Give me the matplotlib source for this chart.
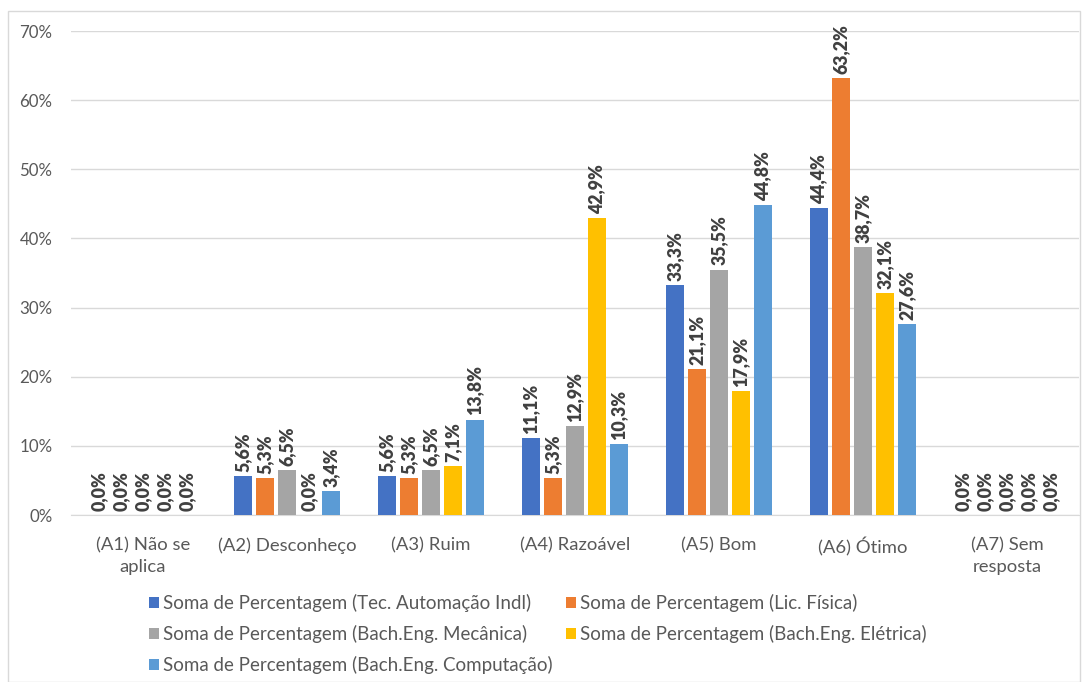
import matplotlib
matplotlib.use("Agg")
import matplotlib.pyplot as plt
from matplotlib.patches import Rectangle
import numpy as np

categories = ["(A1) Não se\naplica", "(A2) Desconheço", "(A3) Ruim", "(A4) Razoável",
              "(A5) Bom", "(A6) Ótimo", "(A7) Sem\nresposta"]
series_names = ["Soma de Percentagem (Tec. Automação Indl)",
                "Soma de Percentagem (Lic. Física)",
                "Soma de Percentagem (Bach.Eng. Mecânica)",
                "Soma de Percentagem (Bach.Eng. Elétrica)",
                "Soma de Percentagem (Bach.Eng. Computação)"]
tec_automacao = [0.0, 5.6, 5.6, 11.1, 33.3, 44.4, 0.0]
lic_fisica = [0.0, 5.3, 5.3, 5.3, 21.1, 63.2, 0.0]
eng_mecanica = [0.0, 6.5, 6.5, 12.9, 35.5, 38.7, 0.0]
eng_eletrica = [0.0, 0.0, 7.1, 42.9, 17.9, 32.1, 0.0]
eng_computacao = [0.0, 3.4, 13.8, 10.3, 44.8, 27.6, 0.0]
yticks = [0, 10, 20, 30, 40, 50, 60, 70]

series = [tec_automacao, lic_fisica, eng_mecanica, eng_eletrica, eng_computacao]
colors = ["#4472C4", "#ED7D31", "#A5A5A5", "#FFC000", "#5B9BD5"]

plt.rcParams['font.family'] = ['Lato', 'DejaVu Sans']

fig = plt.figure(figsize=(10.86, 6.82), dpi=100)
fig.patches.append(Rectangle((8/1086, 0), (1080-8)/1086, 1-11/682, transform=fig.transFigure,
                             fill=False, edgecolor="#D9D9D9", linewidth=1))
ax = fig.add_axes([71/1086, 1-515/682, (1079-71)/1086, (515-31)/682])

x = np.arange(len(categories))
step = 22/144
width = 17.5/144
handles = []
for i, (vals, c) in enumerate(zip(series, colors)):
    pos = x + (i - 2) * step
    b = ax.bar(pos, vals, width=width, color=c, label=series_names[i], zorder=3)
    handles.append(b)
    for p, v in zip(pos, vals):
        ax.annotate(f"{v:.1f}%".replace(".", ","), (p, v), xytext=(0, 3),
                    textcoords="offset points", rotation=90, ha="center", va="bottom",
                    fontsize=12.8, fontweight="heavy", color="#404040")

ax.set_xlim(-0.5, len(categories) - 0.5)
ax.set_ylim(0, 70)
ax.set_yticks(yticks)
ax.set_yticklabels([f"{t}%" for t in yticks])
ax.set_xticks(x)
ax.set_xticklabels(categories, linespacing=1.4)
ax.tick_params(axis="both", length=0, colors="#595959", labelsize=13.3)
ax.tick_params(axis="y", pad=13.5, labelsize=12.2)
ax.tick_params(axis="x", pad=16)
ax.grid(axis="y", color="#D9D9D9", linewidth=1, zorder=0)
for s in ["top", "right", "left"]:
    ax.spines[s].set_visible(False)
ax.spines["bottom"].set_color("#D9D9D9")

order = [0, 2, 4, 1, 3]
leg = fig.legend([handles[i] for i in order], [series_names[i] for i in order],
                 ncol=2, loc="upper left", bbox_to_anchor=(149/1086, 1-594/682),
                 frameon=False, fontsize=13.5, handlelength=0.55, handleheight=0.55,
                 handletextpad=0.2, columnspacing=0.7, labelspacing=0.7,
                 borderpad=0, borderaxespad=0)
for t in leg.get_texts():
    t.set_color("#595959")

fig.savefig("out.png", dpi=100)
